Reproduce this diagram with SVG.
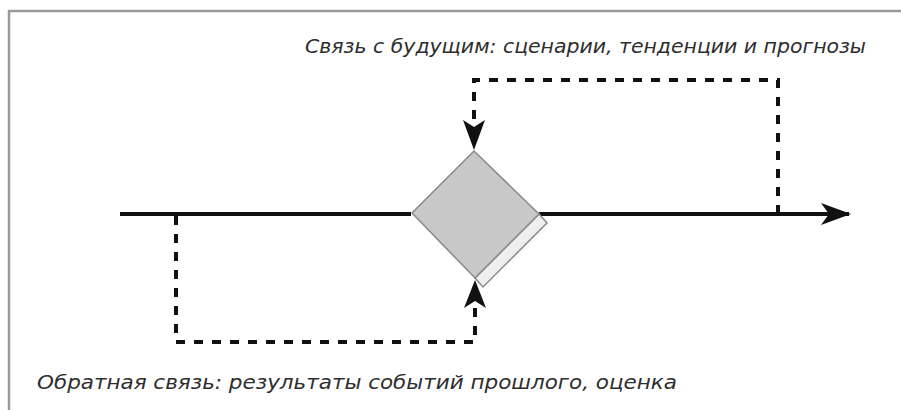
<svg xmlns="http://www.w3.org/2000/svg" width="901" height="410" viewBox="0 0 901 410">
<style>
.frame{fill:none;stroke:#9a9a9a;stroke-width:2.5}
.main{fill:none;stroke:#111;stroke-width:4}
.dash{fill:none;stroke:#111;stroke-width:4;stroke-dasharray:9 9}
.lbl{font-family:"DejaVu Sans Condensed","DejaVu Sans","Liberation Sans",sans-serif;font-style:italic;font-size:20px;fill:#2e2e2e}
</style>
<defs>
<marker id="barb" viewBox="0 0 30 22" refX="28" refY="11" markerWidth="30" markerHeight="22" markerUnits="userSpaceOnUse" orient="auto">
<path d="M0,0 L30,11 L0,22 L8,11 Z" fill="#111"/>
</marker>
</defs>
<path class="frame" d="M9,410 V11 H901"/>
<g id="connectors">
<path class="main" d="M120,214 H411" />
<path class="main" d="M539,214 H849" marker-end="url(#barb)"/>
<path class="dash" d="M778,214 V80 H474 V124"/>
<path d="M474,150 L463,120 L474,127 L485,120 Z" fill="#111"/>
<path class="dash" d="M176,216 V342 H475 V302"/>
<path d="M475,280 L464,308 L475,301 L486,308 Z" fill="#111"/>
</g>
<g id="node-diamond">
<polygon points="539,214 547,223 483,287 475,278" fill="#efefef" stroke="#8a8a8a" stroke-width="1.5"/>
<polygon points="474,151 539,214 475,278 412,213" fill="#c8c8c8" stroke="#888" stroke-width="1.5"/>
</g>
<g id="label-future">
<text class="lbl" x="305" y="53" textLength="561" lengthAdjust="spacingAndGlyphs">Связь с будущим: сценарии, тенденции и прогнозы</text>
</g>
<g id="label-feedback">
<text class="lbl" x="37" y="389" textLength="640" lengthAdjust="spacingAndGlyphs">Обратная связь: результаты событий прошлого, оценка</text>
</g>
</svg>
